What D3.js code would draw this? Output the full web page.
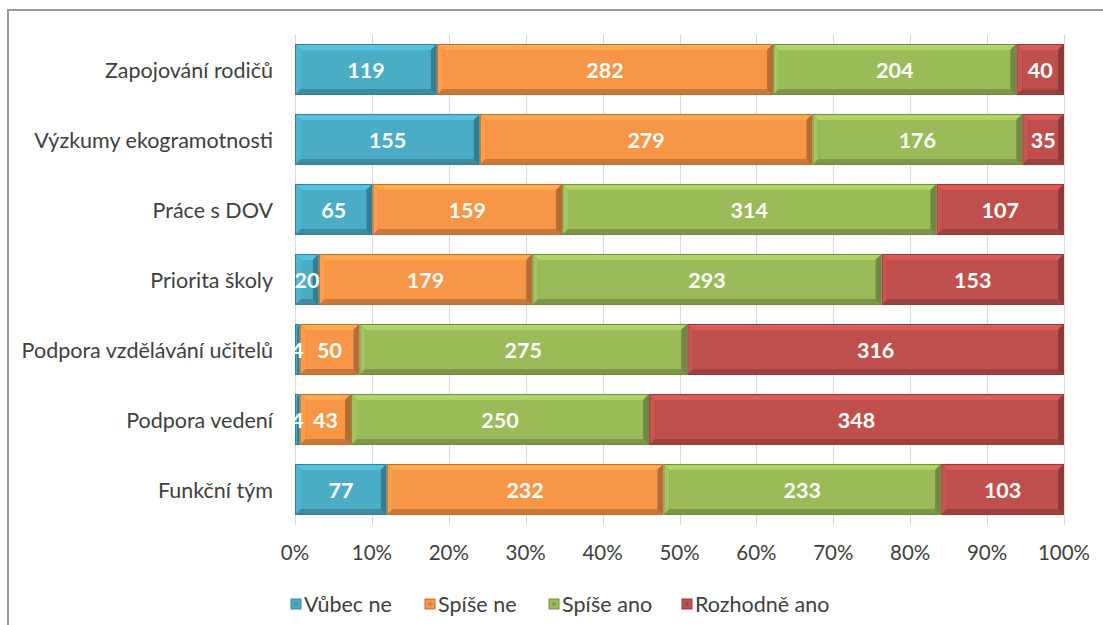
<!DOCTYPE html>
<html>
<head>
<meta charset="utf-8">
<script src="https://cdn.jsdelivr.net/npm/d3@7"></script>
<style>
  html, body { margin: 0; padding: 0; background: #fff; }
  svg { display: block; }
</style>
</head>
<body>
<svg id="chart" width="1103" height="625"></svg>
<script>
// Survey answers per topic (counts of respondents)
const categories = [
  "Zapojování rodičů",
  "Výzkumy ekogramotnosti",
  "Práce s DOV",
  "Priorita školy",
  "Podpora vzdělávání učitelů",
  "Podpora vedení",
  "Funkční tým"
];
const seriesNames = ["Vůbec ne", "Spíše ne", "Spíše ano", "Rozhodně ano"];
const vubecNe     = [119, 155, 65, 20, 4, 4, 77];
const spiseNe     = [282, 279, 159, 179, 50, 43, 232];
const spiseAno    = [204, 176, 314, 293, 275, 250, 233];
const rozhodneAno = [40, 35, 107, 153, 316, 348, 103];
const tickValues  = [0, 0.1, 0.2, 0.3, 0.4, 0.5, 0.6, 0.7, 0.8, 0.9, 1.0];
const colors = ["#4BACC6", "#F79646", "#9BBB59", "#C0504D"];

const seriesValues = [vubecNe, spiseNe, spiseAno, rozhodneAno];
const rows = categories.map((c, i) => {
  const row = { category: c };
  seriesNames.forEach((s, k) => row[s] = seriesValues[k][i]);
  return row;
});

const svg = d3.select("#chart");
const font = "Lato, 'Open Sans', sans-serif";

// outer frame (left and top edges of the chart box)
svg.append("path")
  .attr("d", "M8,625 L8,10 L1103,10")
  .attr("fill", "none")
  .attr("stroke", "#9a9a9a")
  .attr("stroke-width", 2);

const x = d3.scaleLinear().domain([0, 1]).range([295, 1064]);
const y = d3.scaleBand().domain(categories).range([34.5, 524.5])
  .paddingInner(0.27).paddingOuter(0.135);

// vertical gridlines with tick marks below the plot
svg.append("g").selectAll("line")
  .data(tickValues)
  .join("line")
  .attr("x1", d => Math.round(x(d)) + 0.5)
  .attr("x2", d => Math.round(x(d)) + 0.5)
  .attr("y1", 34.5)
  .attr("y2", 525)
  .attr("stroke", "#d9d9d9")
  .attr("stroke-width", 1);

// x-axis labels
const fmt = d3.format(".0%");
svg.append("g").selectAll("text")
  .data(tickValues)
  .join("text")
  .attr("x", d => x(d))
  .attr("y", 552)
  .attr("text-anchor", "middle")
  .attr("dominant-baseline", "central")
  .attr("font-family", font)
  .attr("font-size", 20.5)
  .attr("fill", "#404040")
  .text(d => fmt(d));

// category labels
svg.append("g").selectAll("text")
  .data(categories)
  .join("text")
  .attr("x", 273)
  .attr("y", d => y(d) + y.bandwidth() / 2)
  .attr("text-anchor", "end")
  .attr("dominant-baseline", "central")
  .attr("font-family", font)
  .attr("font-size", 21.5)
  .attr("fill", "#404040")
  .text(d => d);

// stacked shares
const stack = d3.stack().keys(seriesNames)
  .offset(d3.stackOffsetExpand);
const stacked = stack(rows);

// bevelled segment: face plus four edge strips
function bevel(g, x0, y0, x1, y1, base) {
  const w = x1 - x0, h = y1 - y0;
  const b = Math.max(0.5, Math.min(5, w / 2 - 0.5, h / 2));
  const c = d3.color(base);
  const light = d3.color(base).brighter(0.35);
  const lightL = d3.color(base).brighter(0.15);
  const dark = d3.color(base).darker(0.9);
  const darkB = d3.color(base).darker(0.6);
  const pts = a => a.map(p => p.join(",")).join(" ");
  g.append("rect").attr("x", x0).attr("y", y0).attr("width", w).attr("height", h)
    .attr("fill", d3.color(base).darker(0.8));
  const ix0 = x0 + 1, iy0 = y0 + 1, ix1 = x1 - 1, iy1 = y1 - 1;
  g.append("polygon").attr("points", pts([[ix0, iy0], [ix1, iy0], [ix1 - b, iy0 + b], [ix0 + b, iy0 + b]])).attr("fill", light);
  g.append("polygon").attr("points", pts([[ix0, iy0], [ix0 + b, iy0 + b], [ix0 + b, iy1 - b], [ix0, iy1]])).attr("fill", lightL);
  g.append("polygon").attr("points", pts([[ix1, iy0], [ix1, iy1], [ix1 - b, iy1 - b], [ix1 - b, iy0 + b]])).attr("fill", dark);
  g.append("polygon").attr("points", pts([[ix0, iy1], [ix0 + b, iy1 - b], [ix1 - b, iy1 - b], [ix1, iy1]])).attr("fill", darkB);
  if (ix1 - ix0 > 2 * b) {
    g.append("rect").attr("x", ix0 + b).attr("y", iy0 + b)
      .attr("width", Math.max(0, ix1 - ix0 - 2 * b)).attr("height", Math.max(0, iy1 - iy0 - 2 * b))
      .attr("fill", c);
  }
}

const barsG = svg.append("g");
stacked.forEach((layer, k) => {
  layer.forEach(d => {
    const cat = d.data.category;
    bevel(barsG, x(d[0]), y(cat), x(d[1]), y(cat) + y.bandwidth(), colors[k]);
  });
});

// value labels
const labelsG = svg.append("g");
stacked.forEach((layer, k) => {
  layer.forEach(d => {
    const cat = d.data.category;
    labelsG.append("text")
      .attr("x", (x(d[0]) + x(d[1])) / 2)
      .attr("y", y(cat) + y.bandwidth() / 2)
      .attr("text-anchor", "middle")
      .attr("dominant-baseline", "central")
      .attr("font-family", font)
      .attr("font-weight", "bold")
      .attr("font-size", 21.5)
      .attr("fill", "#ffffff")
      .text(d.data[layer.key]);
  });
});

// legend
const legendItems = [
  { name: seriesNames[0], color: colors[0], x: 291 },
  { name: seriesNames[1], color: colors[1], x: 425 },
  { name: seriesNames[2], color: colors[2], x: 549 },
  { name: seriesNames[3], color: colors[3], x: 682 }
];
const lg = svg.append("g");
legendItems.forEach(item => {
  const cy = 604;
  lg.append("rect").attr("x", item.x).attr("y", cy - 5).attr("width", 10).attr("height", 10)
    .attr("fill", item.color).attr("stroke", d3.color(item.color).darker(0.8)).attr("stroke-width", 1);
  lg.append("rect").attr("x", item.x + 3.5).attr("y", cy - 1.5).attr("width", 3).attr("height", 3)
    .attr("fill", d3.color(item.color).darker(0.6));
  lg.append("text").attr("x", item.x + 13).attr("y", cy)
    .attr("dominant-baseline", "central")
    .attr("font-family", font).attr("font-size", 21.5).attr("fill", "#404040")
    .text(item.name);
});
</script>
</body>
</html>
